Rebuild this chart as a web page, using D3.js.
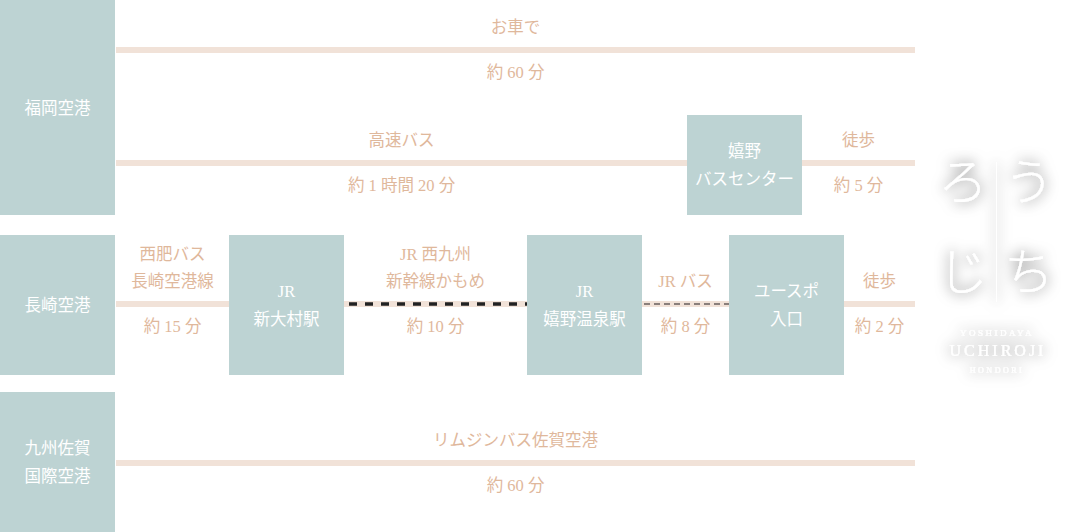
<!DOCTYPE html>
<html><head><meta charset="utf-8">
<script src="https://cdn.jsdelivr.net/npm/d3@7"></script>
<style>
body{margin:0;background:#fff;}
text{font-family:"Liberation Serif","Noto Sans CJK JP",serif;}
</style></head><body><div id="chart"></div>
<script>
const width = 1080, height = 532;
const boxColor = "#bdd3d3", lineColor = "#f1e2d8", textColor = "#dfb89c";

// station boxes: [label lines, x0, x1, y0, y1] in layout units
const boxLabels = [["福岡空港"], ["長崎空港"], ["九州佐賀", "国際空港"], ["嬉野", "バスセンター"], ["JR", "新大村駅"], ["JR", "嬉野温泉駅"], ["ユースポ", "入口"]];
const boxX = [[0, 115], [0, 115], [0, 115], [687, 802], [229, 344], [527, 642], [729, 844]];
const boxY = [[0, 215], [235, 375], [392, 532], [115, 215], [235, 375], [235, 375], [235, 375]];

// route segments
const segX = [[116, 915], [116, 687], [802, 915], [116, 229], [344, 527], [642, 729], [844, 915], [116, 915]];
const segY = [50, 163, 163, 304, 304, 304, 304, 463];
const segStyle = ["solid", "solid", "solid", "solid", "train", "bus", "solid", "solid"];
const segTop = [["お車で"], ["高速バス"], ["徒歩"], ["西肥バス", "長崎空港線"], ["JR 西九州", "新幹線かもめ"], ["JR バス"], ["徒歩"], ["リムジンバス佐賀空港"]];
const segBottom = ["約 60 分", "約 1 時間 20 分", "約 5 分", "約 15 分", "約 10 分", "約 8 分", "約 2 分", "約 60 分"];

const x = d3.scaleLinear().domain([0, 1080]).range([0, width]);
const y = d3.scaleLinear().domain([0, 532]).range([0, height]);

const svg = d3.select("#chart").append("svg").attr("width", width).attr("height", height);

const defs = svg.append("defs");
const f = defs.append("filter").attr("id", "glow").attr("x", "-50%").attr("y", "-50%").attr("width", "200%").attr("height", "200%");
f.append("feDropShadow").attr("dx", 0).attr("dy", 0).attr("stdDeviation", 7).attr("flood-color", "#000").attr("flood-opacity", 0.7);

// segments
segX.forEach((s, i) => {
  const g = svg.append("g");
  g.append("line").attr("x1", x(s[0])).attr("x2", x(s[1])).attr("y1", y(segY[i])).attr("y2", y(segY[i]))
    .attr("stroke", lineColor).attr("stroke-width", 6);
  if (segStyle[i] === "train") {
    g.append("line").attr("x1", x(s[0]) + 5).attr("x2", x(s[1])).attr("y1", y(segY[i])).attr("y2", y(segY[i]))
      .attr("stroke", "#222").attr("stroke-width", 3.5).attr("stroke-dasharray", "8,8");
  } else if (segStyle[i] === "bus") {
    g.append("line").attr("x1", x(s[0]) + 2).attr("x2", x(s[1])).attr("y1", y(segY[i])).attr("y2", y(segY[i]))
      .attr("stroke", "#8a7f7b").attr("stroke-width", 2).attr("stroke-dasharray", "6,4");
  }
  const cx = x((s[0] + s[1]) / 2);
  const top = segTop[i];
  top.forEach((t, j) => {
    g.append("text").attr("x", cx).attr("y", y(segY[i]) - 17 - (top.length - 1 - j) * 27)
      .attr("text-anchor", "middle").attr("fill", textColor).attr("font-size", 16.5).text(t);
  });
  g.append("text").attr("x", cx).attr("y", y(segY[i]) + 28)
    .attr("text-anchor", "middle").attr("fill", textColor).attr("font-size", 16.5).text(segBottom[i]);
});

// boxes
boxLabels.forEach((lab, i) => {
  const x0 = x(boxX[i][0]), x1 = x(boxX[i][1]), y0 = y(boxY[i][0]), y1 = y(boxY[i][1]);
  svg.append("rect").attr("x", x0).attr("y", y0).attr("width", x1 - x0).attr("height", y1 - y0).attr("fill", boxColor);
  const cy = (y0 + y1) / 2;
  lab.forEach((t, j) => {
    svg.append("text").attr("x", (x0 + x1) / 2).attr("y", cy + 6 + (j - (lab.length - 1) / 2) * 28)
      .attr("text-anchor", "middle").attr("fill", "#fff").attr("font-size", 16.5).text(t);
  });
});

// logo
const logo = svg.append("g").attr("filter", "url(#glow)").attr("fill", "#fff");
[["う", 1029, 200], ["ち", 1029, 290], ["ろ", 963, 200], ["じ", 963, 290]].forEach(([t, lx, ly]) => {
  logo.append("text").attr("x", lx).attr("y", ly).attr("text-anchor", "middle").attr("font-size", 50)
    .attr("font-family", "Noto Sans CJK JP").attr("font-weight", 300).text(t);
});
logo.append("rect").attr("x", 996).attr("y", 162).attr("width", 1).attr("height", 140);
logo.append("text").attr("x", 997).attr("y", 336).attr("text-anchor", "middle").attr("font-size", 9)
  .attr("font-family", "DejaVu Sans").attr("letter-spacing", 2.5).text("YOSHIDAYA");
logo.append("text").attr("x", 998).attr("y", 356).attr("text-anchor", "middle").attr("font-size", 16)
  .attr("letter-spacing", 3).text("UCHIROJI");
logo.append("text").attr("x", 997).attr("y", 373).attr("text-anchor", "middle").attr("font-size", 8)
  .attr("font-family", "DejaVu Sans").attr("letter-spacing", 2.5).text("HONDORI");
</script></body></html>
